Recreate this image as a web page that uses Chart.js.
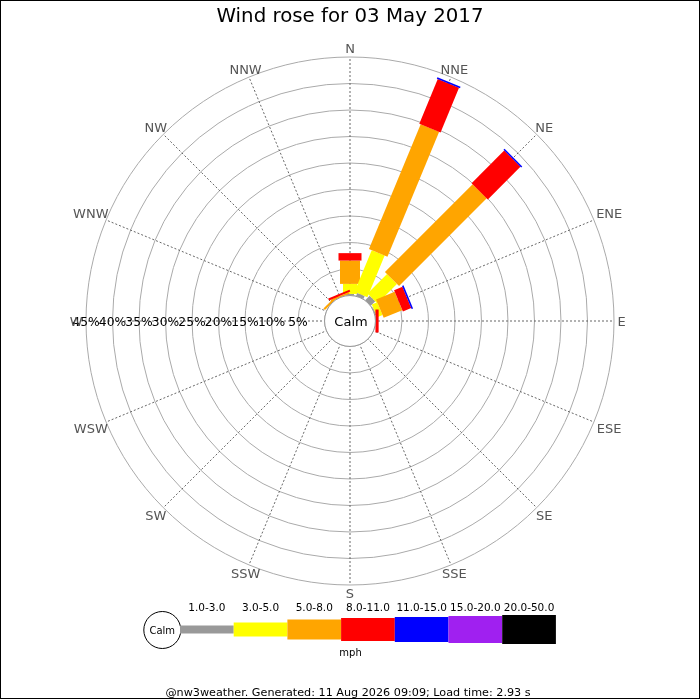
<!DOCTYPE html>
<html>
<head>
<meta charset="utf-8">
<title>Wind rose</title>
<script src="https://cdn.jsdelivr.net/npm/chart.js@4/dist/chart.umd.min.js"></script>
<style>
  html, body { margin: 0; padding: 0; background: #fff; }
  #wrap { width: 700px; height: 700px; }
</style>
</head>
<body>
<div id="wrap"><canvas id="rose" width="700" height="700"></canvas></div>
<script>
// ---------------------------------------------------------------------------
// data: % of the day per direction, one array per speed class (mph)
// ---------------------------------------------------------------------------
const DIRECTIONS = ["N", "NNE", "NE", "ENE", "E", "ESE", "SE", "SSE",
                    "S", "SSW", "SW", "WSW", "W", "WNW", "NW", "NNW"];
const SPEED_CLASSES = ["1.0-3.0", "3.0-5.0", "5.0-8.0", "8.0-11.0", "11.0-15.0", "15.0-20.0", "20.0-50.0"];

const PCT_1_3   = [0.3, 0.6, 1.2, 0.2, 0,   0, 0, 0, 0, 0, 0, 0, 0, 0,   0,   0];
const PCT_3_5   = [1.9, 8.5, 5.2, 1.1, 0,   0, 0, 0, 0, 0, 0, 0, 0, 0,   0,   0];
const PCT_5_8   = [4.4, 25.5, 23.4, 3.8, 0, 0, 0, 0, 0, 0, 0, 0, 0, 0,   0.4, 0.3];
const PCT_8_11  = [1.4, 9.1, 8.7, 1.7, 0.6, 0, 0, 0, 0, 0, 0, 0, 0, 0,   0,   0.4];
const PCT_11_15 = [0,   0.3, 0.3, 0.3, 0,   0, 0, 0, 0, 0, 0, 0, 0, 0,   0,   0];
const PCT_15_20 = [0,   0,   0,   0,   0,   0, 0, 0, 0, 0, 0, 0, 0, 0,   0,   0];
const PCT_20_50 = [0,   0,   0,   0,   0,   0, 0, 0, 0, 0, 0, 0, 0, 0,   0,   0];

const RING_TICKS = [0, 5, 10, 15, 20, 25, 30, 35, 40, 45];

// ---------------------------------------------------------------------------
// styles
// ---------------------------------------------------------------------------
const CLASS_COLORS = ["#999999", "#ffff00", "#ffa500", "#ff0000", "#0000ff", "#a020f0", "#000000"];
const BAR_WIDTHS = [8, 14, 20, 23, 25, 27, 29];
const FONT = "DejaVu Sans";

// stacked (cumulative) values, outer edge of every segment
const perClass = [PCT_1_3, PCT_3_5, PCT_5_8, PCT_8_11, PCT_11_15, PCT_15_20, PCT_20_50];
const cumulative = [];
perClass.forEach((arr, k) => {
    cumulative.push(arr.map((v, i) => (k ? cumulative[k - 1][i] : 0) + v));
});

// ---------------------------------------------------------------------------
// plugin: bars, calm circle, labels, legend
// ---------------------------------------------------------------------------
const windRosePlugin = {
    id: "windRose",

    afterDatasetsDraw(chart) {
        const s = chart.scales.r;
        const ctx = chart.ctx;
        const sets = chart.data.datasets;
        ctx.save();

        // bars
        for (let i = 0; i < DIRECTIONS.length; i++) {
            const a = s.getIndexAngle(i) - Math.PI / 2;
            const nx = -Math.sin(a), ny = Math.cos(a);
            sets.forEach((ds, k) => {
                const v0 = k ? sets[k - 1].data[i] : 0;
                const v1 = ds.data[i];
                if (v1 <= v0) return;
                const p0 = s.getPointPosition(i, s.getDistanceFromCenterForValue(v0));
                const p1 = s.getPointPosition(i, s.getDistanceFromCenterForValue(v1));
                const h = BAR_WIDTHS[k] / 2;
                ctx.beginPath();
                ctx.moveTo(p0.x + nx * h, p0.y + ny * h);
                ctx.lineTo(p1.x + nx * h, p1.y + ny * h);
                ctx.lineTo(p1.x - nx * h, p1.y - ny * h);
                ctx.lineTo(p0.x - nx * h, p0.y - ny * h);
                ctx.closePath();
                ctx.fillStyle = ds.backgroundColor;
                ctx.fill();
            });
        }

        // calm circle on top
        const r0 = s.getDistanceFromCenterForValue(0);
        ctx.beginPath();
        ctx.arc(s.xCenter, s.yCenter, r0, 0, Math.PI * 2);
        ctx.fillStyle = "#fff";
        ctx.fill();
        ctx.strokeStyle = "#999";
        ctx.lineWidth = 1;
        ctx.stroke();

        ctx.fillStyle = "#000";
        ctx.textAlign = "center";
        ctx.textBaseline = "alphabetic";
        ctx.font = "13px '" + FONT + "'";
        ctx.fillText("Calm", s.xCenter + 1, s.yCenter + 5);

        // ring labels along the W axis
        ctx.font = "12.3px '" + FONT + "'";
        RING_TICKS.forEach(v => {
            if (!v) return;
            const x = s.xCenter - s.getDistanceFromCenterForValue(v);
            ctx.fillText(v + "%", x, s.yCenter + 5);
        });

        // direction labels
        ctx.font = "13px '" + FONT + "'";
        ctx.fillStyle = "#555";
        const R = s.getDistanceFromCenterForValue(s.max) + 3.5;
        DIRECTIONS.forEach((d, i) => {
            const a = s.getIndexAngle(i);
            const w = ctx.measureText(d).width / 2;
            const hh = 5;
            const sa = Math.abs(Math.sin(a)), ca = Math.abs(Math.cos(a));
            const ext = Math.min(sa > 1e-6 ? w / sa : 1e9, ca > 1e-6 ? hh / ca : 1e9);
            const p = s.getPointPosition(i, R + ext);
            ctx.fillText(d, p.x, p.y + 4.7);
        });

        ctx.restore();
    },

    afterDraw(chart) {
        const ctx = chart.ctx;
        ctx.save();

        // legend
        const lx = 180, ly = 629.5, segW = 53.7;
        ctx.beginPath();
        ctx.arc(162.3, 630, 18.5, 0, Math.PI * 2);
        ctx.fillStyle = "#fff";
        ctx.fill();
        ctx.strokeStyle = "#000";
        ctx.lineWidth = 1;
        ctx.stroke();
        ctx.fillStyle = "#000";
        ctx.textAlign = "center";
        ctx.font = "10px '" + FONT + "'";
        ctx.fillText("Calm", 162.3, 633.5);

        SPEED_CLASSES.forEach((lbl, k) => {
            const x = lx + k * segW;
            const h = BAR_WIDTHS[k];
            ctx.fillStyle = CLASS_COLORS[k];
            ctx.fillRect(x, ly - h / 2, segW, h);
            ctx.fillStyle = "#000";
            ctx.font = "10.5px '" + FONT + "'";
            ctx.fillText(lbl, x + segW / 2, 610.5);
        });
        ctx.font = "10px '" + FONT + "'";
        ctx.fillText("mph", 350.5, 655.5);

        // footer
        ctx.font = "11.2px '" + FONT + "'";
        ctx.fillText("@nw3weather. Generated: 11 Aug 2026 09:09; Load time: 2.93 s", 348, 696);

        // frame
        ctx.strokeStyle = "#000";
        ctx.strokeRect(0.5, 0.5, 699, 698);
        ctx.restore();
    }
};

// ---------------------------------------------------------------------------
// chart
// ---------------------------------------------------------------------------
new Chart(document.getElementById("rose"), {
    type: "radar",
    data: {
        labels: DIRECTIONS,
        datasets: SPEED_CLASSES.map((name, k) => ({
            label: name,
            data: cumulative[k],
            backgroundColor: CLASS_COLORS[k],
            fill: false,
            showLine: false,
            borderWidth: 0,
            pointRadius: 0,
            pointHoverRadius: 0,
            pointHitRadius: 0
        }))
    },
    options: {
        responsive: false,
        devicePixelRatio: 1,
        animation: false,
        events: [],
        layout: { padding: { left: 86, right: 86, top: 0, bottom: 115 } },
        plugins: {
            legend: { display: false },
            tooltip: { enabled: false },
            filler: { propagate: false },
            title: {
                display: true,
                text: "Wind rose for 03 May 2017",
                color: "#000",
                font: { family: FONT, size: 19.8, weight: "normal", lineHeight: 1.2 },
                padding: { top: 5, bottom: 28.24 }
            }
        },
        scales: {
            r: {
                min: -4.8,
                max: 45,
                bounds: "data",
                startAngle: 0,
                afterBuildTicks: (scale) => {
                    scale.ticks = RING_TICKS.map(v => ({ value: v }));
                },
                ticks: { display: false },
                pointLabels: { display: false },
                grid: { circular: true, color: "#aaa", lineWidth: 1 },
                angleLines: { color: "#666", lineWidth: 1, borderDash: [2, 2] }
            }
        }
    },
    plugins: [windRosePlugin]
});
</script>
</body>
</html>
